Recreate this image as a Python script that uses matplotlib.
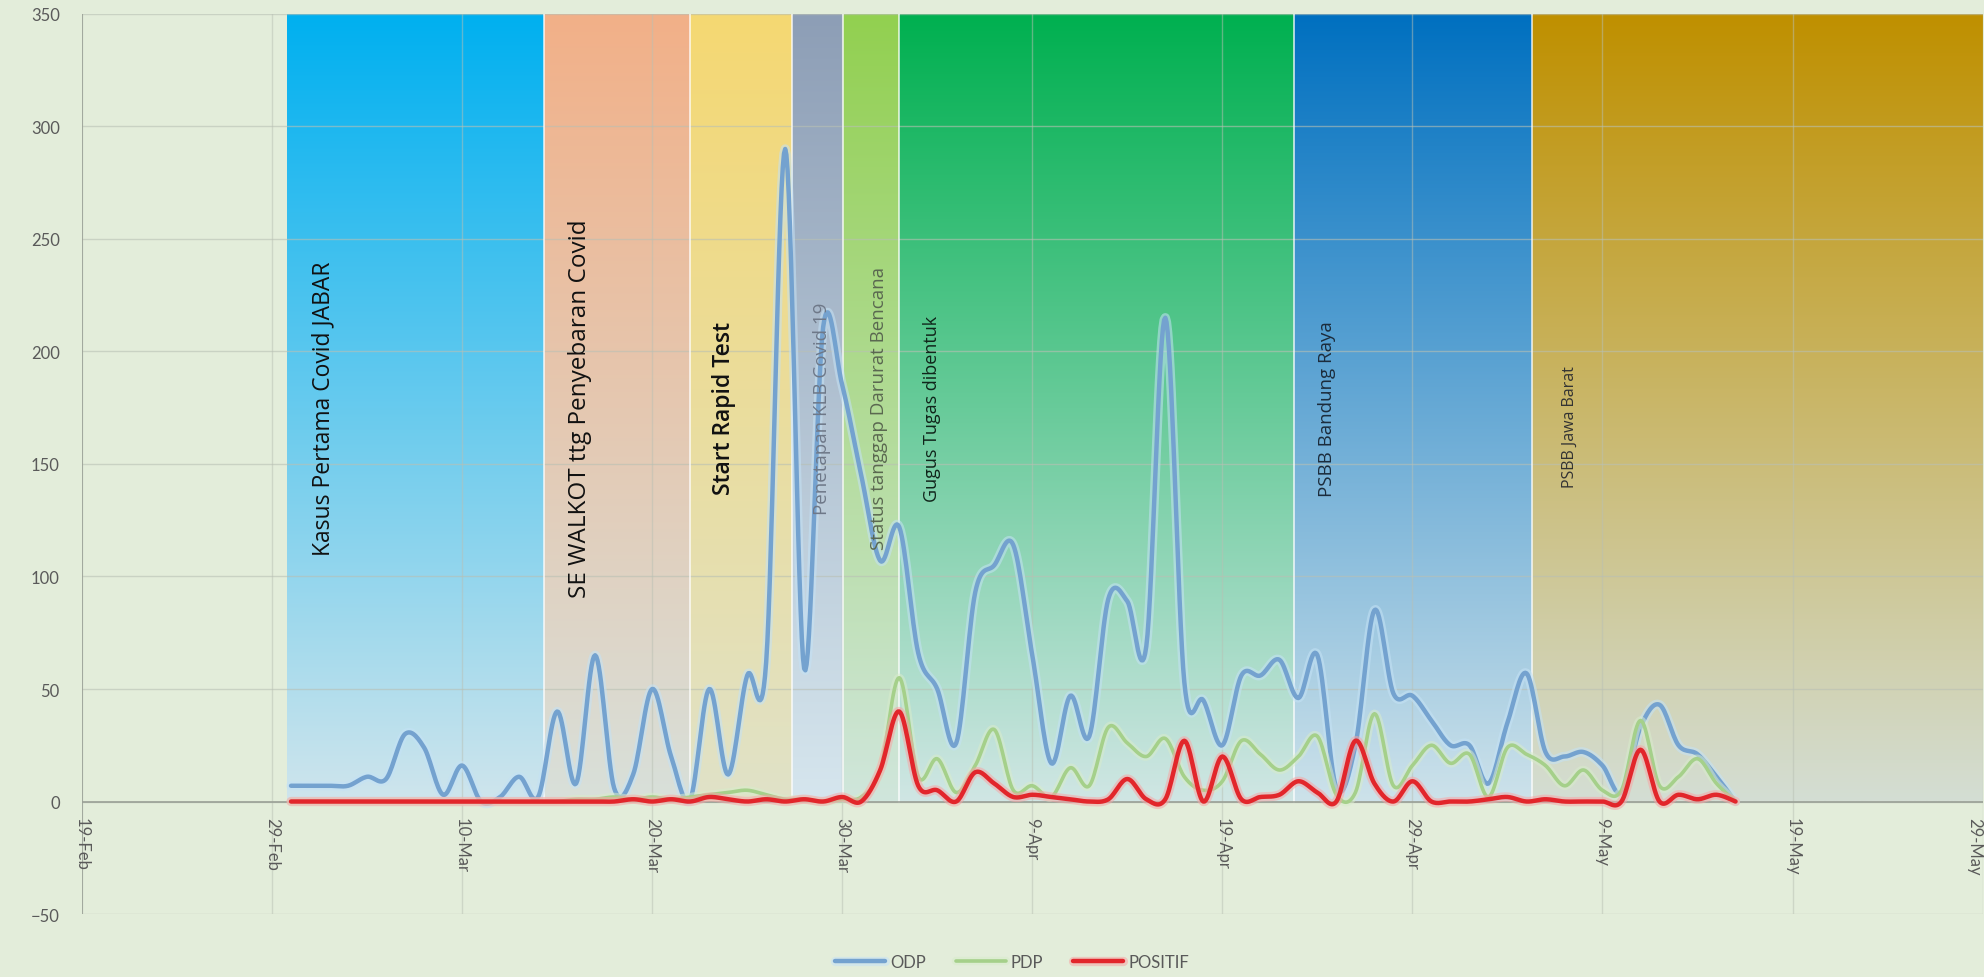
import matplotlib
matplotlib.use("Agg")
import matplotlib.pyplot as plt
import matplotlib.patheffects as pe
import numpy as np

plt.rcParams['font.family'] = ['Lato', 'DejaVu Sans']

# days counted from 19-Feb-2020; data runs 1-Mar .. 16-May
start_day = 11
odp = [7, 7, 7, 7, 11, 10, 30, 24, 3, 16, 0, 2, 11, 2, 40, 8, 65, 6, 12, 50,
       20, 1, 50, 12, 56, 62, 290, 59, 211, 185, 145, 107, 122, 66, 50, 26, 93, 105, 114, 65,
       17, 47, 29, 90, 89, 69, 215, 53, 45, 25, 56, 56, 63, 46, 65, 6, 25, 85, 48, 47,
       36, 25, 25, 8, 35, 57, 22, 20, 22, 16, 4, 33, 43, 25, 21, 11, 0]
pdp = [0, 0, 0, 0, 0, 0, 0, 0, 0, 0, 0, 0, 0, 0, 0, 1, 1, 2, 1, 2,
       1, 2, 3, 4, 5, 3, 1, 1, 0, 1, 2, 14, 55, 11, 19, 4, 16, 32, 5, 7,
       2, 15, 7, 33, 26, 20, 28, 11, 5, 9, 27, 21, 14, 20, 29, 3, 4, 39, 7, 16,
       25, 17, 21, 2, 24, 21, 16, 7, 14, 5, 5, 36, 7, 11, 19, 8, 0]
positif = [0, 0, 0, 0, 0, 0, 0, 0, 0, 0, 0, 0, 0, 0, 0, 0, 0, 0, 1, 0,
           1, 0, 2, 1, 0, 1, 0, 1, 0, 2, 0, 14, 40, 7, 5, 0, 13, 8, 2, 3,
           2, 1, 0, 1, 10, 1, 1, 27, 0, 20, 1, 2, 3, 9, 4, 0, 27, 8, 0, 9,
           0, 0, 0, 1, 2, 0, 1, 0, 0, 0, 0, 23, 0, 3, 1, 3, 0]

tick_labels = ['19-Feb', '29-Feb', '10-Mar', '20-Mar', '30-Mar', '9-Apr',
               '19-Apr', '29-Apr', '9-May', '19-May', '29-May']

event_labels = ['Kasus Pertama Covid JABAR', 'SE WALKOT ttg Penyebaran Covid',
                'Start Rapid Test', 'Penetapan KLB Covid 19',
                'Status tanggap Darurat Bencana', 'Gugus Tugas dibentuk',
                'PSBB Bandung Raya', 'PSBB Jawa Barat']
event_edges = [10.8, 24.3, 32.0, 37.35, 40.05, 43.0, 63.75, 76.3, 100]

band_top = ['#00b0f0', '#f2b088', '#f5d872', '#8d9eb6', '#92d050', '#00b050', '#0070c0', '#bf9000']
band_bottom = ['#cfe5ec', '#d8e0da', '#e0e2c8', '#d6e6ee', '#d0e6dc', '#d0e6e4', '#cde2ea', '#d4ded4']
label_x = [12.7, 26.2, 33.8, 38.96, 41.95, 44.7, 65.5, 78.3]
label_y = [175, 175, 175, 175, 175, 175, 175, 167]
label_size = [16.5, 17.5, 16.5, 13.5, 13.5, 13, 13.5, 11.5]
label_weight = ['normal', 'normal', 'semibold', 'normal', 'normal', 'normal', 'normal', 'normal']
label_color = ['#111111', '#111111', '#111111', '#6e7888', '#5a6850', '#10241a', '#1c2c3c', '#333333']


def smooth(x, y, n=16):
    x = np.asarray(x, float)
    y = np.asarray(y, float)
    px = np.concatenate([[x[0]], x, [x[-1]]])
    py = np.concatenate([[y[0]], y, [y[-1]]])
    t = np.linspace(0, 1, n, endpoint=False)
    xs, ys = [], []
    for i in range(1, len(px) - 2):
        for p, out in ((px, xs), (py, ys)):
            p0, p1, p2, p3 = p[i - 1], p[i], p[i + 1], p[i + 2]
            out.append(0.5 * (2 * p1 + (-p0 + p2) * t + (2 * p0 - 5 * p1 + 4 * p2 - p3) * t ** 2
                              + (-p0 + 3 * p1 - 3 * p2 + p3) * t ** 3))
    xs.append([x[-1]])
    ys.append([y[-1]])
    return np.concatenate(xs), np.concatenate(ys)


bg = '#e3edda'
fig = plt.figure(figsize=(19.84, 9.78), dpi=100, facecolor=bg)
ax = fig.add_axes([0.0413, 0.0644, 0.958, 0.9203])
ax.set_facecolor(bg)

# gradient bands
for i in range(len(event_labels)):
    c_top = np.array(matplotlib.colors.to_rgb(band_top[i]))
    c_bot = np.array(matplotlib.colors.to_rgb(band_bottom[i]))
    f = np.linspace(0, 1, 256)[:, None]
    grad = (c_top * (1 - f) + c_bot * f)[:, None, :]
    ax.imshow(grad, extent=[event_edges[i], event_edges[i + 1], 0, 350],
              aspect='auto', origin='upper', interpolation='bilinear', zorder=1)
    if i > 0:
        ax.plot([event_edges[i], event_edges[i]], [0, 350], color='white', lw=1.2, alpha=0.8, zorder=1.6)

# grid
for yv in range(-50, 351, 50):
    ax.axhline(yv, color='#b9c0b4', lw=1, alpha=0.6, zorder=1.5)
for xv in range(0, 101, 10):
    ax.axvline(xv, color='#b9c0b4', lw=1, alpha=0.5, zorder=1.5)
ax.axhline(0, color='#9aa096', lw=1.2, zorder=1.7)
ax.plot([0, 0], [-50, 350], color='#9aa096', lw=1.2, zorder=1.7)

# event labels
for i, lab in enumerate(event_labels):
    ax.text(label_x[i], label_y[i], lab, rotation=90, ha='center', va='center', family=['Open Sans', 'DejaVu Sans'],
            fontsize=label_size[i], fontweight=label_weight[i], color=label_color[i], zorder=4)

days = np.arange(start_day, start_day + len(odp))
series = [(odp, 'ODP', '#74a2cf', '#c4e2f6', 3.2),
          (pdp, 'PDP', '#a5d08a', '#d8eccb', 2.6),
          (positif, 'POSITIF', '#e2262b', '#f6a6a6', 3.2)]
for vals, name, col, glow, lw in series:
    sx, sy = smooth(days, vals)
    ax.plot(sx, sy, color=col, lw=lw, label=name, zorder=3, solid_capstyle='round',
            path_effects=[pe.Stroke(linewidth=lw + 3.5, foreground=glow, alpha=0.55), pe.Normal()])

ax.set_xlim(0, 100)
ax.set_ylim(-50, 350)
ax.set_yticks(range(-50, 351, 50))
ax.tick_params(axis='y', length=0, pad=16, labelsize=12, labelcolor='#5a5a5a')
ax.set_xticks([])
for k, lab in enumerate(tick_labels):
    ha = 'right' if k == len(tick_labels) - 1 else 'center'
    ax.text(k * 10, -7, lab, rotation=-90, ha=ha, va='top', fontsize=12, color='#5a5a5a', zorder=2)
for s in ax.spines.values():
    s.set_visible(False)

leg = fig.legend(loc='lower center', bbox_to_anchor=(0.51, -0.008), ncol=3, frameon=False,
                 fontsize=12, handlelength=3, columnspacing=1.8, handletextpad=0.3)
for t in leg.get_texts():
    t.set_color('#595959')

fig.savefig('out.png', dpi=100, facecolor=bg)
